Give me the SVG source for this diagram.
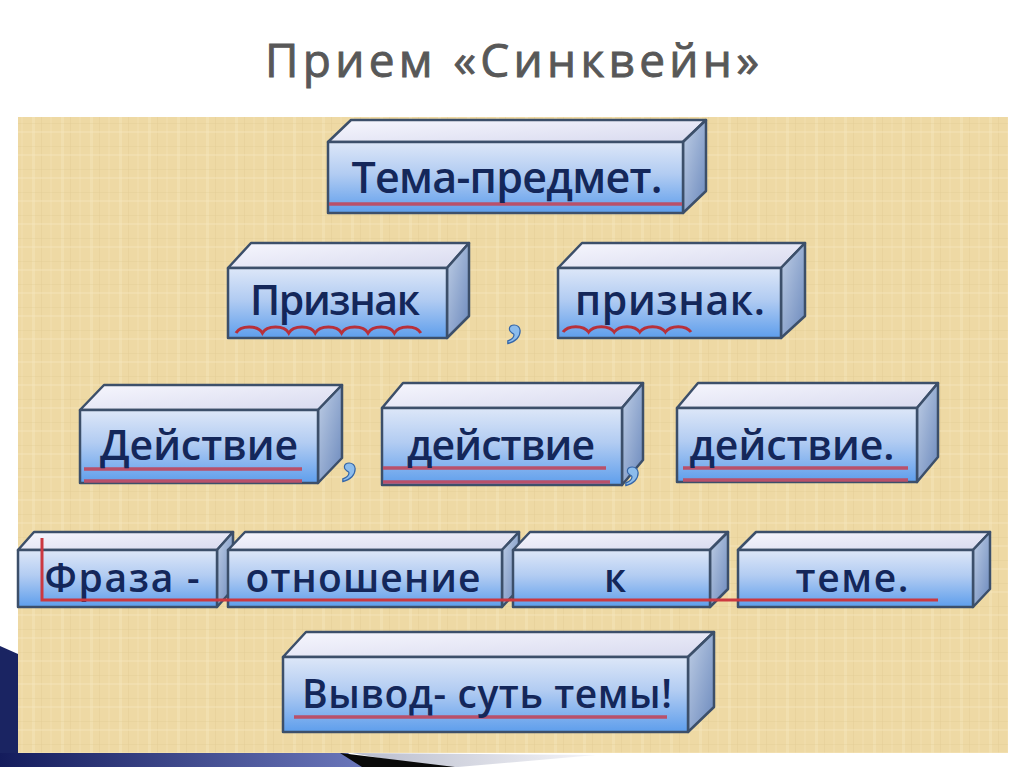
<svg xmlns="http://www.w3.org/2000/svg" width="1024" height="767" viewBox="0 0 1024 767">
<defs>
  <linearGradient id="gFront" x1="0" y1="0" x2="0" y2="1">
    <stop offset="0" stop-color="#dde7f8"/>
    <stop offset="0.45" stop-color="#b2ccf2"/>
    <stop offset="1" stop-color="#5e9eec"/>
  </linearGradient>
  <linearGradient id="gTop" x1="0" y1="0" x2="1" y2="1">
    <stop offset="0" stop-color="#f6f6fd"/>
    <stop offset="1" stop-color="#d8daef"/>
  </linearGradient>
  <linearGradient id="gSide" x1="0" y1="0" x2="1" y2="1">
    <stop offset="0" stop-color="#c0cfe6"/>
    <stop offset="1" stop-color="#6a88bc"/>
  </linearGradient>
  <linearGradient id="gBar" x1="0" y1="0" x2="1" y2="0">
    <stop offset="0" stop-color="#141c5c"/>
    <stop offset="1" stop-color="#6c78bc"/>
  </linearGradient>
  <linearGradient id="gWedge" x1="0" y1="0" x2="1" y2="0">
    <stop offset="0" stop-color="#b8bccc"/>
    <stop offset="1" stop-color="#f4f4f8"/>
  </linearGradient>
  <pattern id="paper" width="29" height="23" patternUnits="userSpaceOnUse">
    <rect width="29" height="23" fill="#eed9a4"/>
    <rect x="3" width="3" height="23" fill="#f3e3b6" opacity="0.6"/>
    <rect x="12" width="1" height="23" fill="#e0c990" opacity="0.35"/>
    <rect x="21" width="2" height="23" fill="#f1e0b0" opacity="0.5"/>
    <rect y="8" width="29" height="1" fill="#e0ca94" opacity="0.3"/>
    <rect y="16" width="29" height="2" fill="#f4e6bd" opacity="0.4"/>
  </pattern>
  <style>
    .front{fill:url(#gFront);stroke:#3c4f6a;stroke-width:2.5;stroke-linejoin:round}
    .top{fill:url(#gTop);stroke:#3c4f6a;stroke-width:2.5;stroke-linejoin:round}
    .side{fill:url(#gSide);stroke:#3c4f6a;stroke-width:2.5;stroke-linejoin:round}
    .lbl{font-family:"Open Sans","Noto Sans","DejaVu Sans",sans-serif;font-weight:600;fill:#14275a;text-anchor:middle}
    .ul{stroke:#b9506a;stroke-width:3.5;fill:none}
    .wave{stroke:#b8303a;stroke-width:3;fill:none}
    .red{stroke:#cc3840;stroke-width:3;fill:none}
    .comma{font-family:"Liberation Serif","DejaVu Serif",serif;font-weight:700;font-size:62px;fill:#8cbcec;stroke:#3566a8;stroke-width:1.2}
  </style>
</defs>

<rect width="1024" height="767" fill="#ffffff"/>
<text x="512" y="77" font-family="Open Sans, Noto Sans, DejaVu Sans, sans-serif" font-size="46" font-weight="400" fill="#585858" stroke="#585858" stroke-width="0.9" text-anchor="middle" textLength="494" lengthAdjust="spacing">Прием «Синквейн»</text>

<rect x="18" y="117" width="990" height="636" fill="url(#paper)"/>

<g id="decor">
  <polygon points="0,646 18,654 18,767 0,767" fill="#1a2462"/>
  <polygon points="0,753 348,753 368,767 0,767" fill="url(#gBar)"/>
  <polygon points="352,753 596,755 458,767 430,767" fill="url(#gWedge)"/>
  <polygon points="340,753 455,767 362,767" fill="#0a0a0a"/>
</g>

<g id="node-tema">
  <polygon class="top" points="328,142 351,120 706,120 683,142"/>
  <polygon class="side" points="683,142 706,120 706,191 683,213"/>
  <rect class="front" x="328" y="142" width="355" height="71"/>
  <line class="ul" x1="329" y1="204" x2="682" y2="204"/>
  <text class="lbl" x="507" y="193" font-size="43" textLength="311" lengthAdjust="spacing">Тема-предмет.</text>
</g>

<g id="node-priznak1">
  <polygon class="top" points="228,268 251,243 469,243 447,268"/>
  <polygon class="side" points="447,268 469,243 469,316 447,338"/>
  <rect class="front" x="228" y="268" width="219" height="70"/>
  <path class="wave" d="M236,333 a14,9 0 0 1 26.4,0 a14,9 0 0 1 26.4,0 a14,9 0 0 1 26.4,0 a14,9 0 0 1 26.4,0 a14,9 0 0 1 26.4,0 a14,9 0 0 1 26.4,0 a14,9 0 0 1 26.4,0"/>
  <text class="lbl" x="335" y="315" font-size="41" textLength="170" lengthAdjust="spacing">Признак</text>
</g>

<g id="node-priznak2">
  <polygon class="top" points="558,268 582,243 805,243 781,268"/>
  <polygon class="side" points="781,268 805,243 805,316 781,338"/>
  <rect class="front" x="558" y="268" width="223" height="70"/>
  <path class="wave" d="M563,332 a14,9 0 0 1 25.6,0 a14,9 0 0 1 25.6,0 a14,9 0 0 1 25.6,0 a14,9 0 0 1 25.6,0 a14,9 0 0 1 25.6,0"/>
  <text class="lbl" x="670" y="315" font-size="41" textLength="190" lengthAdjust="spacing">признак.</text>
</g>

<g id="node-deistvie1">
  <polygon class="top" points="80,410 104,385 342,385 318,410"/>
  <polygon class="side" points="318,410 342,385 342,458 318,483"/>
  <rect class="front" x="80" y="410" width="238" height="73"/>
  <line class="ul" x1="84" y1="469" x2="302" y2="469"/>
  <line class="ul" x1="84" y1="481" x2="302" y2="481"/>
  <text class="lbl" x="199" y="460" font-size="41" textLength="198" lengthAdjust="spacing">Действие</text>
</g>

<g id="node-deistvie2">
  <polygon class="top" points="382,408 403,383 643,383 622,408"/>
  <polygon class="side" points="622,408 643,383 643,460 622,485"/>
  <rect class="front" x="382" y="408" width="240" height="77"/>
  <line class="ul" x1="383" y1="468" x2="606" y2="468"/>
  <line class="ul" x1="383" y1="482" x2="610" y2="482"/>
  <text class="lbl" x="501" y="460" font-size="41" textLength="188" lengthAdjust="spacing">действие</text>
</g>

<g id="node-deistvie3">
  <polygon class="top" points="677,408 698,383 938,383 917,408"/>
  <polygon class="side" points="917,408 938,383 938,457 917,482"/>
  <rect class="front" x="677" y="408" width="240" height="74"/>
  <line class="ul" x1="683" y1="468" x2="908" y2="468"/>
  <line class="ul" x1="683" y1="480" x2="908" y2="480"/>
  <text class="lbl" x="792" y="460" font-size="41" textLength="205" lengthAdjust="spacing">действие.</text>
</g>

<g id="node-fraza">
  <polygon class="top" points="18,550 34,532 233,532 217,550"/>
  <polygon class="side" points="217,550 233,532 233,589 217,607"/>
  <rect class="front" x="18" y="550" width="199" height="57"/>
  <text class="lbl" x="122" y="592" font-size="39" textLength="155" lengthAdjust="spacing">Фраза -</text>
</g>

<g id="node-otnoshenie">
  <polygon class="top" points="228,550 245,532 519,532 502,550"/>
  <polygon class="side" points="502,550 519,532 519,589 502,607"/>
  <rect class="front" x="228" y="550" width="274" height="57"/>
  <text class="lbl" x="363" y="592" font-size="39" textLength="235" lengthAdjust="spacing">отношение</text>
</g>

<g id="node-k">
  <polygon class="top" points="513,550 530,532 728,532 710,550"/>
  <polygon class="side" points="710,550 728,532 728,589 710,607"/>
  <rect class="front" x="513" y="550" width="197" height="57"/>
  <text class="lbl" x="615" y="592" font-size="39">к</text>
</g>

<g id="node-teme">
  <polygon class="top" points="738,550 756,532 990,532 973,550"/>
  <polygon class="side" points="973,550 990,532 990,589 973,607"/>
  <rect class="front" x="738" y="550" width="235" height="57"/>
  <text class="lbl" x="852" y="592" font-size="39" textLength="113" lengthAdjust="spacing">теме.</text>
</g>

<g id="node-vyvod">
  <polygon class="top" points="283,657 306,632 714,632 688,657"/>
  <polygon class="side" points="688,657 714,632 714,707 688,732"/>
  <rect class="front" x="283" y="657" width="405" height="75"/>
  <line class="ul" x1="294" y1="717" x2="667" y2="717"/>
  <text class="lbl" x="487" y="708" font-size="39" textLength="370" lengthAdjust="spacing">Вывод- суть темы!</text>
</g>

<g id="connectors">
  <path class="red" d="M42,538 V600 H938"/>
  <text class="comma" x="507" y="334">,</text>
  <text class="comma" x="342" y="472">,</text>
  <text class="comma" x="625" y="476">,</text>
</g>
</svg>
